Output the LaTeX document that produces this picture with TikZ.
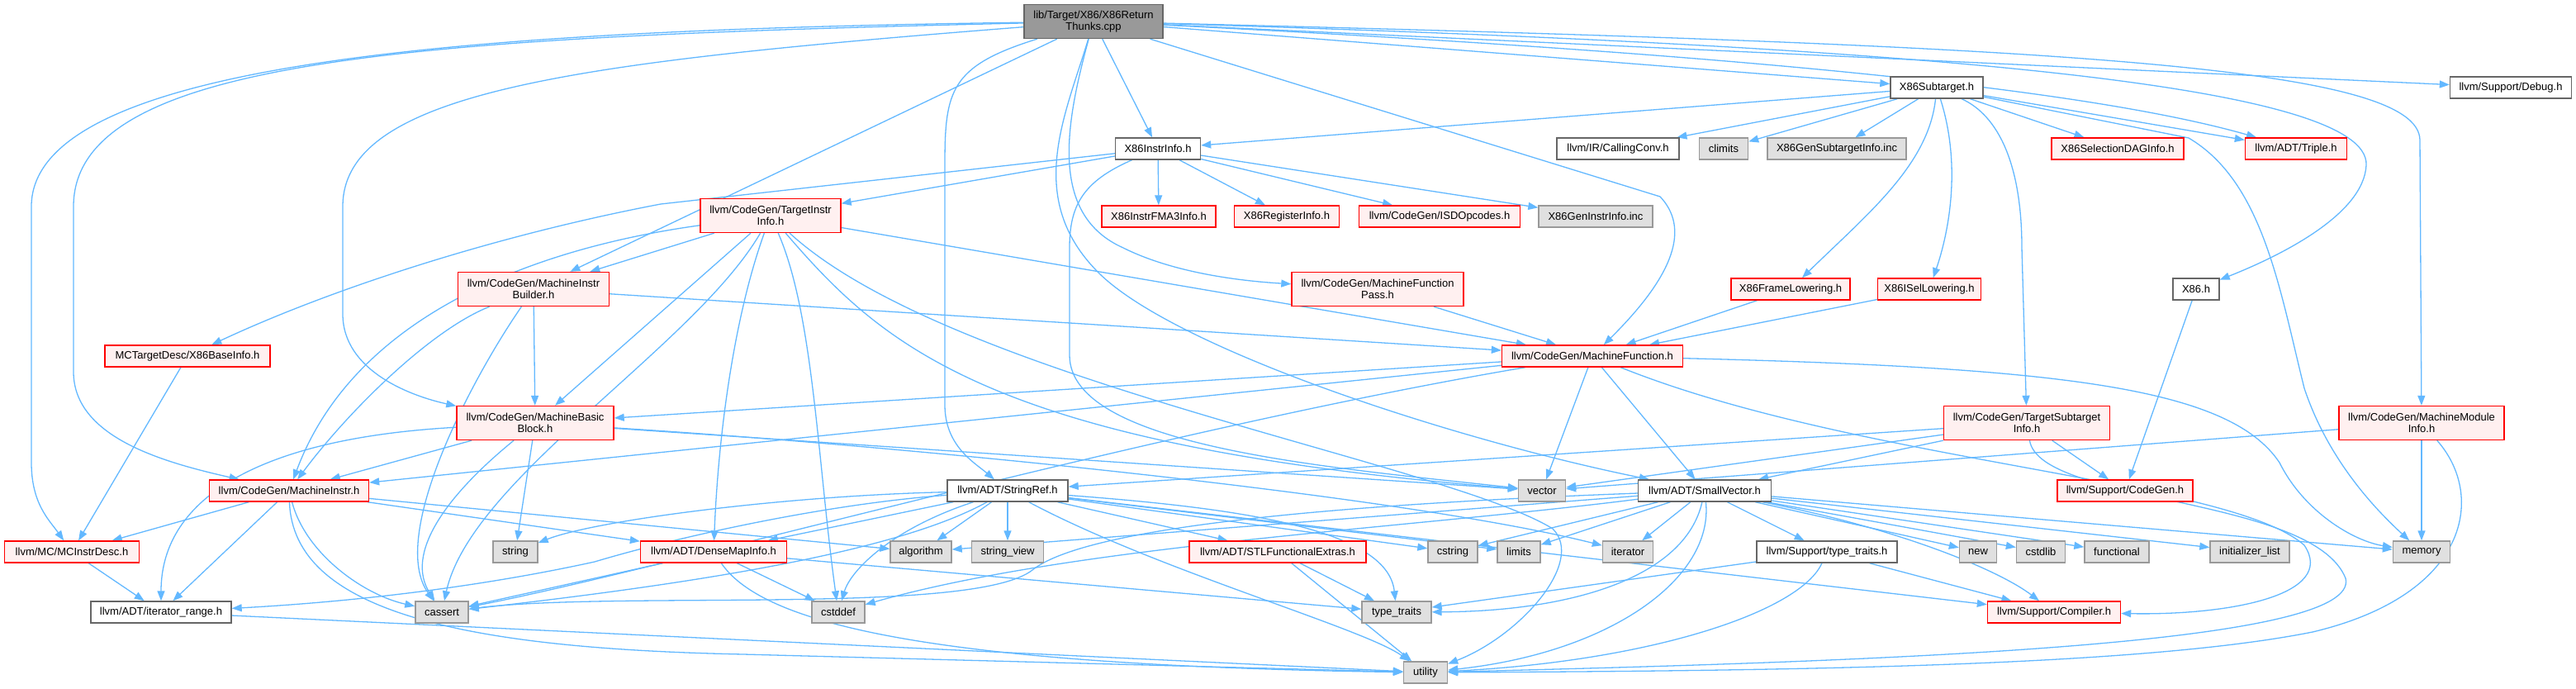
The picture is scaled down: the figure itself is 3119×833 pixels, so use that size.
\documentclass[tikz,border=0pt]{standalone}
\usepackage{fontspec}
\setmainfont{Liberation Sans}
\usetikzlibrary{arrows.meta}
\definecolor{edgecol}{HTML}{63B8FF}
\definecolor{redfill}{HTML}{FFF0F0}
\definecolor{grayfill}{HTML}{E0E0E0}
\definecolor{grayline}{HTML}{999999}
\definecolor{darkline}{HTML}{666666}
\definecolor{rootfill}{HTML}{999999}
\pgfdeclarelayer{background}
\pgfsetlayers{background,main}
\begin{document}
\begin{tikzpicture}[x=1pt,y=-1pt,
  box/.style={draw, line width=1.4pt, inner sep=0pt, minimum height=26pt, align=center, font=\fontsize{13}{14.5}\selectfont},
  tall/.style={minimum height=41pt},
  rednode/.style={box, draw=red, fill=redfill},
  graynode/.style={box, draw=grayline, fill=grayfill},
  whitenode/.style={box, draw=darkline, fill=white},
  rootnode/.style={box, draw=darkline, fill=rootfill},
  link/.style={draw=edgecol, line width=1.3pt, -{Triangle[length=12pt,width=9pt]}}
]
\useasboundingbox (0,0) rectangle (3119,833);
% row 0
\node[rootnode, tall, minimum width=168pt] (root) at (1324,26) {lib/Target/X86/X86Return\\Thunks.cpp};
% row 1
\node[whitenode, minimum width=112pt] (sub) at (2345,106) {X86Subtarget.h};
\node[whitenode, minimum width=147pt] (dbg) at (3040,106) {llvm/Support/Debug.h};
% row 2
\node[whitenode, minimum width=103pt] (iinfo) at (1402,180) {X86InstrInfo.h};
\node[whitenode, minimum width=148pt] (cconv) at (1959,180) {llvm/IR/CallingConv.h};
\node[graynode, minimum width=59pt] (climits) at (2087,180) {climits};
\node[graynode, minimum width=168pt] (gensub) at (2224,180) {X86GenSubtargetInfo.inc};
\node[rednode, minimum width=160pt] (seldag) at (2564,180) {X86SelectionDAGInfo.h};
\node[rednode, minimum width=123pt] (triple) at (2780,180) {llvm/ADT/Triple.h};
% row 3
\node[rednode, tall, minimum width=170pt] (tii) at (933,261) {llvm/CodeGen/TargetInstr\\Info.h};
\node[rednode, minimum width=138pt] (fma3) at (1403,262) {X86InstrFMA3Info.h};
\node[rednode, minimum width=127pt] (reginfo) at (1558,262) {X86RegisterInfo.h};
\node[rednode, minimum width=195pt] (isd) at (1743,262) {llvm/CodeGen/ISDOpcodes.h};
\node[graynode, minimum width=138pt] (geninstr) at (1932,262) {X86GenInstrInfo.inc};
% row 4
\node[rednode, tall, minimum width=183pt] (mib) at (646,350) {llvm/CodeGen/MachineInstr\\Builder.h};
\node[rednode, tall, minimum width=208pt] (mfpass) at (1668,350) {llvm/CodeGen/MachineFunction\\Pass.h};
\node[rednode, minimum width=144pt] (framel) at (2168,350) {X86FrameLowering.h};
\node[rednode, minimum width=125pt] (isel) at (2336,350) {X86ISelLowering.h};
\node[whitenode, minimum width=56pt] (xh) at (2659,350) {X86.h};
% row 5
\node[rednode, minimum width=200pt] (baseinfo) at (227,431) {MCTargetDesc/X86BaseInfo.h};
\node[rednode, minimum width=219pt] (mf) at (1928,431) {llvm/CodeGen/MachineFunction.h};
% row 6
\node[rednode, tall, minimum width=190pt] (mbb) at (648,512) {llvm/CodeGen/MachineBasic\\Block.h};
\node[rednode, tall, minimum width=201pt] (tsi) at (2454,512) {llvm/CodeGen/TargetSubtarget\\Info.h};
\node[rednode, tall, minimum width=200pt] (mmi) at (2932,512) {llvm/CodeGen/MachineModule\\Info.h};
% row 7
\node[rednode, minimum width=193pt] (mi) at (350,594) {llvm/CodeGen/MachineInstr.h};
\node[whitenode, minimum width=146pt] (sref) at (1220,594) {llvm/ADT/StringRef.h};
\node[graynode, minimum width=57pt] (vector) at (1867,594) {vector};
\node[whitenode, minimum width=161pt] (svec) at (2064,594) {llvm/ADT/SmallVector.h};
\node[rednode, minimum width=164pt] (cgen) at (2573,594) {llvm/Support/CodeGen.h};
% row 8
\node[rednode, minimum width=163pt] (mcid) at (87,668) {llvm/MC/MCInstrDesc.h};
\node[graynode, minimum width=54pt] (string) at (624,668) {string};
\node[rednode, minimum width=177pt] (dmi) at (864,668) {llvm/ADT/DenseMapInfo.h};
\node[graynode, minimum width=74pt] (algorithm) at (1115,668) {algorithm};
\node[graynode, minimum width=87pt] (sview) at (1220,668) {string\_view};
\node[rednode, minimum width=214pt] (stlfe) at (1547,668) {llvm/ADT/STLFunctionalExtras.h};
\node[graynode, minimum width=60pt] (cstring) at (1759,668) {cstring};
\node[graynode, minimum width=52pt] (limits) at (1839,668) {limits};
\node[graynode, minimum width=61pt] (iterator) at (1971,668) {iterator};
\node[whitenode, minimum width=170pt] (ttraitsh) at (2212,668) {llvm/Support/type\_traits.h};
\node[graynode, minimum width=45pt] (nnew) at (2395,668) {new};
\node[graynode, minimum width=59pt] (cstdlib) at (2471,668) {cstdlib};
\node[graynode, minimum width=78pt] (functional) at (2563,668) {functional};
\node[graynode, minimum width=96pt] (initlist) at (2724,668) {initializer\_list};
\node[graynode, minimum width=69pt] (memory) at (2932,668) {memory};
% row 9
\node[whitenode, minimum width=170pt] (itrange) at (195,741) {llvm/ADT/iterator\_range.h};
\node[graynode, minimum width=64pt] (cassert) at (535,741) {cassert};
\node[graynode, minimum width=64pt] (cstddef) at (1015,741) {cstddef};
\node[graynode, minimum width=84pt] (ttraits) at (1691,741) {type\_traits};
\node[rednode, minimum width=161pt] (compiler) at (2487,741) {llvm/Support/Compiler.h};
% row 10
\node[graynode, minimum width=53pt] (utility) at (1726,814) {utility};

\begin{pgfonlayer}{background}
% root
\draw[link] (root) .. controls (600,36) and (38,70) .. (38,250) -- (38,560) .. controls (38,610) and (60,630) .. (mcid);
\draw[link] (root) .. controls (500,45) and (89,70) .. (89,250) -- (89,450) .. controls (89,530) and (200,560) .. (mi);
\draw[link] (root) .. controls (700,75) and (415,110) .. (415,250) -- (415,380) .. controls (415,450) and (500,480) .. (mbb);
\draw[link] (root) -- (mib);
\draw[link] (root) .. controls (1150,80) and (1144,110) .. (1144,200) -- (1144,490) .. controls (1144,540) and (1180,560) .. (sref);
\draw[link] (root) .. controls (1290,140) and (1240,240) .. (1330,330) .. controls (1420,420) and (1750,530) .. (svec);
\draw[link] (root) .. controls (1290,150) and (1270,260) .. (1360,300) .. controls (1420,330) and (1500,340) .. (mfpass);
\draw[link] (root) -- (iinfo);
\draw[link] (root) -- (2010,238) .. controls (2045,275) and (2030,330) .. (mf);
\draw[link] (root) -- (sub);
\draw[link] (root) -- (dbg);
\draw[link] (root) .. controls (2000,60) and (2500,100) .. (triple);
\draw[link] (root) .. controls (2300,55) and (2870,100) .. (2865,200) .. controls (2862,260) and (2760,310) .. (xh);
\draw[link] (root) .. controls (2500,55) and (2930,80) .. (2930,170) -- (mmi);
% X86Subtarget
\draw[link] (sub) -- (iinfo);
\draw[link] (sub) -- (cconv);
\draw[link] (sub) -- (climits);
\draw[link] (sub) -- (gensub);
\draw[link] (sub) -- (seldag);
\draw[link] (sub) -- (triple);
\draw[link] (sub) .. controls (2335,200) and (2260,260) .. (framel);
\draw[link] (sub) .. controls (2375,200) and (2360,280) .. (isel);
\draw[link] (sub) .. controls (2420,140) and (2448,200) .. (2448,300) -- (tsi);
\draw[link] (sub) -- (2650,167) .. controls (2740,220) and (2760,350) .. (2790,470) .. controls (2820,560) and (2880,620) .. (memory);
% X86InstrInfo
\draw[link] (iinfo) -- (800,247) .. controls (600,285) and (400,350) .. (baseinfo);
\draw[link] (iinfo) -- (tii);
\draw[link] (iinfo) -- (fma3);
\draw[link] (iinfo) -- (reginfo);
\draw[link] (iinfo) -- (isd);
\draw[link] (iinfo) -- (geninstr);
\draw[link] (iinfo) .. controls (1310,220) and (1295,250) .. (1295,300) -- (1295,430) .. controls (1295,540) and (1600,565) .. (vector);
% TargetInstrInfo
\draw[link] (tii) .. controls (650,300) and (430,380) .. (mi);
\draw[link] (tii) -- (mib);
\draw[link] (tii) -- (mbb);
\draw[link] (tii) .. controls (840,420) and (570,580) .. (cassert);
\draw[link] (tii) .. controls (890,380) and (870,520) .. (dmi);
\draw[link] (tii) .. controls (985,380) and (990,560) .. (cstddef);
\draw[link] (tii) .. controls (1070,420) and (1200,540) .. (vector);
\draw[link] (tii) .. controls (1150,460) and (1750,560) .. (1880,640) .. controls (1920,680) and (1840,770) .. (utility);
\draw[link] (tii) -- (mf);
% MachineInstrBuilder
\draw[link] (mib) .. controls (520,400) and (420,500) .. (mi);
\draw[link] (mib) .. controls (570,460) and (470,650) .. (cassert);
\draw[link] (mib) -- (mbb);
\draw[link] (mib) -- (mf);
% singles
\draw[link] (mfpass) -- (mf);
\draw[link] (framel) -- (mf);
\draw[link] (isel) -- (mf);
\draw[link] (xh) -- (cgen);
\draw[link] (baseinfo) -- (mcid);
% MachineFunction
\draw[link] (mf) -- (mbb);
\draw[link] (mf) -- (mi);
\draw[link] (mf) .. controls (1400,520) and (800,690) .. (cassert);
\draw[link] (mf) -- (vector);
\draw[link] (mf) -- (svec);
\draw[link] (mf) .. controls (2500,445) and (2700,470) .. (2760,560) .. controls (2790,620) and (2850,655) .. (memory);
\draw[link] (mf) .. controls (2250,560) and (2700,580) .. (2790,660) .. controls (2830,720) and (2700,745) .. (compiler);
% MachineBasicBlock
\draw[link] (mbb) .. controls (320,530) and (195,600) .. (itrange);
\draw[link] (mbb) -- (mi);
\draw[link] (mbb) .. controls (540,600) and (490,670) .. (cassert);
\draw[link] (mbb) -- (string);
\draw[link] (mbb) -- (vector);
\draw[link] (mbb) .. controls (1100,540) and (1700,600) .. (iterator);
% MachineInstr
\draw[link] (mi) -- (mcid);
\draw[link] (mi) -- (itrange);
\draw[link] (mi) .. controls (370,670) and (440,720) .. (cassert);
\draw[link] (mi) .. controls (355,740) and (560,785) .. (900,792) -- (utility);
\draw[link] (mi) -- (dmi);
\draw[link] (mi) -- (algorithm);
\draw[link] (mcid) -- (itrange);
\draw[link] (itrange) -- (utility);
% StringRef
\draw[link] (sref) -- (dmi);
\draw[link] (sref) .. controls (1080,640) and (1030,690) .. (cstddef);
\draw[link] (sref) -- (algorithm);
\draw[link] (sref) -- (sview);
\draw[link] (sref) -- (stlfe);
\draw[link] (sref) .. controls (1000,610) and (820,650) .. (720,680) .. controls (560,715) and (400,730) .. (itrange);
\draw[link] (sref) .. controls (950,600) and (720,630) .. (string);
\draw[link] (sref) .. controls (1100,660) and (900,700) .. (cassert);
\draw[link] (sref) -- (cstring);
\draw[link] (sref) -- (limits);
\draw[link] (sref) .. controls (1500,615) and (1680,640) .. (ttraits);
\draw[link] (sref) .. controls (1400,690) and (1650,760) .. (utility);
\draw[link] (sref) -- (compiler);
% SmallVector
\draw[link] (svec) .. controls (2300,640) and (2420,690) .. (compiler);
\draw[link] (svec) -- (ttraitsh);
\draw[link] (svec) -- (algorithm);
\draw[link] (svec) .. controls (1500,615) and (1300,650) .. (1250,690) .. controls (1180,745) and (750,715) .. (cassert);
\draw[link] (svec) .. controls (1700,640) and (1300,660) .. (cstddef);
\draw[link] (svec) -- (cstdlib);
\draw[link] (svec) -- (functional);
\draw[link] (svec) -- (initlist);
\draw[link] (svec) -- (memory);
\draw[link] (svec) -- (nnew);
\draw[link] (svec) -- (cstring);
\draw[link] (svec) -- (limits);
\draw[link] (svec) -- (iterator);
\draw[link] (svec) .. controls (2040,700) and (1900,740) .. (ttraits);
\draw[link] (svec) .. controls (2075,700) and (1950,790) .. (utility);
% type_traits.h
\draw[link] (ttraitsh) -- (ttraits);
\draw[link] (ttraitsh) .. controls (2180,740) and (2000,800) .. (utility);
\draw[link] (ttraitsh) -- (compiler);
% DenseMapInfo
\draw[link] (dmi) -- (cassert);
\draw[link] (dmi) -- (cstddef);
\draw[link] (dmi) -- (ttraits);
\draw[link] (dmi) .. controls (920,750) and (1100,805) .. (utility);
% STLFunctionalExtras
\draw[link] (stlfe) -- (ttraits);
\draw[link] (stlfe) -- (utility);
% TargetSubtargetInfo
\draw[link] (tsi) -- (sref);
\draw[link] (tsi) -- (vector);
\draw[link] (tsi) -- (svec);
\draw[link] (tsi) -- (cgen);
\draw[link] (tsi) .. controls (2470,610) and (2800,600) .. (2840,700) .. controls (2860,780) and (2300,800) .. (utility);
% MachineModuleInfo
\draw[link] (mmi) -- (vector);
\draw[link] (mmi) -- (memory);
\draw[link] (mmi) .. controls (3010,600) and (2990,720) .. (2800,765) .. controls (2600,805) and (2200,812) .. (utility);
\end{pgfonlayer}
\end{tikzpicture}
\end{document}
